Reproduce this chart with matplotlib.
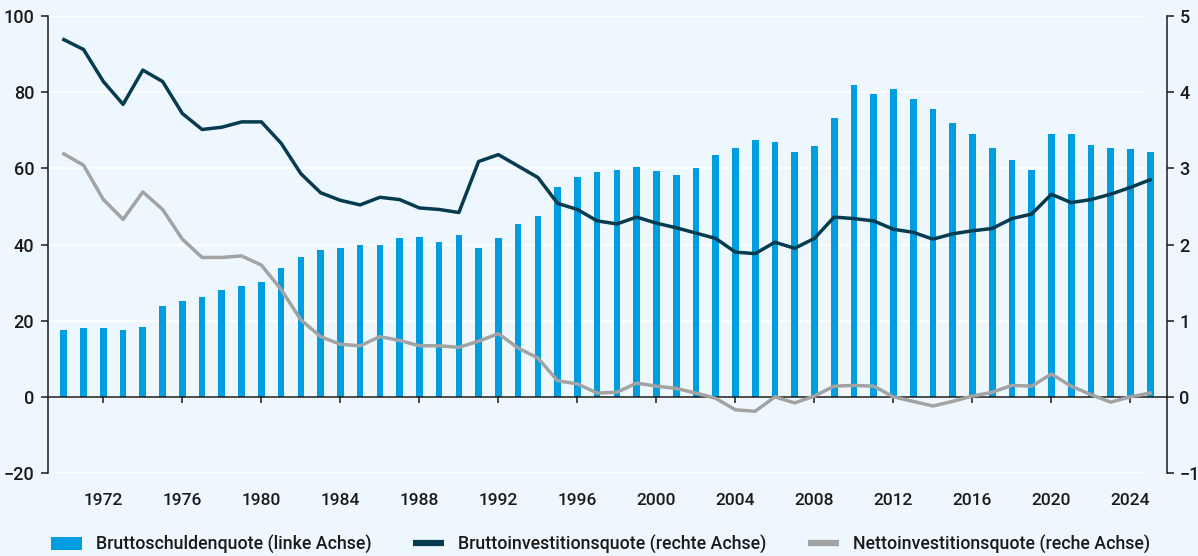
import numpy as np
import matplotlib
matplotlib.use("Agg")
import matplotlib.pyplot as plt
from matplotlib.patches import Patch
from matplotlib.lines import Line2D

plt.rcParams['font.family'] = ['Roboto', 'DejaVu Sans']

################# data #################
years = list(range(1970, 2026))

# Bruttoschuldenquote, % (linke Achse)
schulden = [17.6, 18.2, 18.2, 17.6, 18.4, 23.9, 25.2, 26.3, 28.1, 29.0,
            30.2, 33.9, 36.8, 38.6, 39.1, 39.9, 39.9, 41.7, 42.0, 40.7,
            42.5, 39.1, 41.7, 45.4, 47.5, 55.1, 57.7, 59.0, 59.6, 60.3,
            59.3, 58.3, 60.1, 63.5, 65.3, 67.4, 66.9, 64.3, 65.9, 73.2,
            81.8, 79.5, 80.8, 78.2, 75.5, 71.9, 69.0, 65.3, 62.2, 59.6,
            69.0, 69.0, 66.1, 65.3, 65.1, 64.3]

# Bruttoinvestitionsquote, % (rechte Achse)
brutto_inv = [4.69, 4.56, 4.14, 3.84, 4.29, 4.14, 3.72, 3.51, 3.54, 3.61,
              3.61, 3.33, 2.93, 2.68, 2.58, 2.52, 2.62, 2.59, 2.48, 2.46,
              2.42, 3.09, 3.18, 3.03, 2.88, 2.54, 2.46, 2.31, 2.27, 2.36,
              2.28, 2.22, 2.15, 2.08, 1.90, 1.88, 2.03, 1.95, 2.08, 2.36,
              2.34, 2.31, 2.20, 2.16, 2.07, 2.14, 2.18, 2.21, 2.34, 2.40,
              2.66, 2.55, 2.59, 2.66, 2.75, 2.85]

# Nettoinvestitionsquote, % (rechte Achse)
netto_inv = [3.19, 3.04, 2.59, 2.33, 2.69, 2.46, 2.07, 1.83, 1.83, 1.85,
             1.73, 1.41, 1.01, 0.79, 0.69, 0.67, 0.79, 0.74, 0.67, 0.67,
             0.65, 0.73, 0.83, 0.64, 0.51, 0.21, 0.17, 0.05, 0.06, 0.18,
             0.14, 0.11, 0.05, -0.02, -0.17, -0.19, 0.00, -0.08, 0.01, 0.14,
             0.15, 0.14, 0.00, -0.06, -0.12, -0.06, 0.01, 0.06, 0.15, 0.14,
             0.30, 0.14, 0.03, -0.07, 0.00, 0.05]

year_ticks = list(range(1972, 2025, 4))
left_ticks = [-20, 0, 20, 40, 60, 80, 100]
right_ticks = [-1, 0, 1, 2, 3, 4, 5]

labels = ['Bruttoschuldenquote (linke Achse)',
          'Bruttoinvestitionsquote (rechte Achse)',
          'Nettoinvestitionsquote (reche Achse)']
################# data #################

BG = '#eef7fe'
BLUE = '#009ee0'
DARK = '#063b50'
GREY = '#a3a3a3'
TXT = '#1a1a1a'
W = 'medium'

fig = plt.figure(figsize=(11.98, 5.56), dpi=100, facecolor=BG)
ax = fig.add_axes([0.0401, 0.1493, 0.9340, 0.8219])
ax.set_facecolor(BG)

ax.bar(years, schulden, width=0.34, color=BLUE, zorder=2)

ax.set_xlim(1969.2, 2025.85)
ax.set_ylim(-20, 100)
ax.hlines(left_ticks, 1969.2, 2024.8, color='white', lw=1.2, zorder=1)

# spines: left axis, zero line at the bottom
for s in ['top', 'right']:
    ax.spines[s].set_visible(False)
ax.spines['bottom'].set_position(('data', 0))
ax.spines['bottom'].set_zorder(3)
for s in ['left', 'bottom']:
    ax.spines[s].set_color(TXT)
    ax.spines[s].set_linewidth(1.1)

ax.set_yticks(left_ticks)
ax.set_yticklabels([str(v).replace('-', '\u2212') for v in left_ticks])
ax.tick_params(axis='y', direction='out', length=5, width=1.1, pad=5,
               colors=TXT, labelsize=13)
for t in ax.get_yticklabels():
    t.set_fontweight(W)

ax.set_xticks(year_ticks)
ax.set_xticklabels([str(y) for y in year_ticks])
ax.tick_params(axis='x', direction='out', length=4, width=1.1, pad=65,
               colors=TXT, labelsize=12.5)
for t in ax.get_xticklabels():
    t.set_fontweight(W)

# right axis for the investment ratios
ax2 = ax.twinx()
ax2.set_ylim(-1, 5)
ax2.plot(years, brutto_inv, color=DARK, lw=2.5, solid_joinstyle='round', zorder=4)
ax2.plot(years, netto_inv, color=GREY, lw=2.5, solid_joinstyle='round', zorder=3)
for s in ['top', 'left', 'bottom']:
    ax2.spines[s].set_visible(False)
ax2.spines['right'].set_color(TXT)
ax2.spines['right'].set_linewidth(1.1)
ax2.set_yticks(right_ticks)
ax2.set_yticklabels([str(v).replace('-', '\u2212') for v in right_ticks])
ax2.tick_params(axis='y', direction='out', length=5, width=1.1, pad=4,
                colors=TXT, labelsize=13)
for t in ax2.get_yticklabels():
    t.set_fontweight(W)

handles = [Patch(facecolor=BLUE, edgecolor='none'),
           Line2D([], [], color=DARK, lw=4.5, solid_capstyle='butt'),
           Line2D([], [], color=GREY, lw=4.5, solid_capstyle='butt')]
leg = fig.legend(handles, labels, loc='center left', bbox_to_anchor=(0.0367, 0.021),
                 borderaxespad=0, ncol=3, frameon=False,
                 handlelength=1.75, handleheight=0.7,
                 handletextpad=0.8, columnspacing=2.3,
                 prop={'size': 12.8, 'weight': W})
for t in leg.get_texts():
    t.set_color(TXT)

fig.savefig('out.png', dpi=100, facecolor=BG)
